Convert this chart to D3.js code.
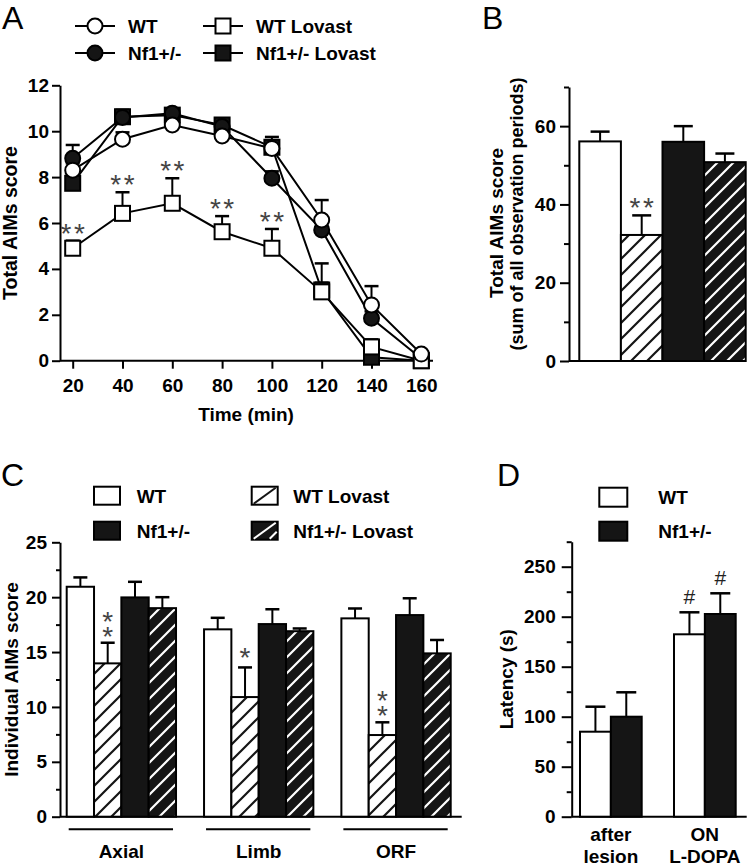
<!DOCTYPE html>
<html><head><meta charset="utf-8">
<script src="https://cdn.jsdelivr.net/npm/d3@7"></script>
<style>body{margin:0;background:#fff}svg{display:block}text{font-family:"Liberation Sans",Arial,sans-serif}</style>
</head><body><svg id="c" width="750" height="867"></svg>
<script>
// ---------- DATA ----------
// Panel A
const timesA = [20, 40, 60, 80, 100, 120, 140, 160];
const ticksAy = [0, 2, 4, 6, 8, 10, 12];
const wtA      = [8.3, 9.65, 10.27, 9.79, 9.25, 6.13, 2.43, 0.29];
const wtAerr   = [0.3, 0.3, 0.2, 0.25, 0.3, 0.87, 0.82, 0.1];
const nf1A     = [8.82, 10.6, 10.78, 10.2, 7.95, 5.7, 1.85, 0.1];
const nf1Aerr  = [0.58, 0.3, 0.2, 0.2, 0.3, 0.3, 0.3, 0.05];
const wtLovA   = [4.9, 6.42, 6.86, 5.62, 4.9, 3.0, 0.6, 0.0];
const wtLovAerr= [0.33, 0.92, 1.09, 0.68, 0.84, 0.4, 0.33, 0];
const nf1LovA  = [7.73, 10.63, 10.7, 10.27, 9.3, 3.08, 0.15, 0.0];
const nf1LovAerr=[0.3, 0.3, 0.2, 0.2, 0.45, 1.16, 0.2, 0];
const starsA   = [0, 1, 2, 3, 4]; // indices of WT Lovast with "**"

// Panel B
const groupsB = ["WT", "WT Lovast", "Nf1+/-", "Nf1+/- Lovast"];
const valsB   = [56.1, 32.2, 56.0, 50.8];
const errB    = [2.5, 5.0, 4.0, 2.2];
const ticksBy = [0, 20, 40, 60];
const minorBy = [10, 30, 50, 70];

// Panel C
const catsC    = ["Axial", "Limb", "ORF"];
const wtC      = [20.95, 17.07, 18.07];
const wtCerr   = [0.85, 1.05, 0.9];
const wtLovC   = [13.97, 10.9, 7.44];
const wtLovCerr= [1.88, 2.7, 1.16];
const nf1C     = [19.98, 17.55, 18.37];
const nf1Cerr  = [1.42, 1.35, 1.53];
const nf1LovC  = [19.0, 16.9, 14.88];
const nf1LovCerr=[1.0, 0.25, 1.22];
const starsC   = ["**", "*", "**"];
const ticksCy  = [0, 5, 10, 15, 20, 25];
const minorCy  = [2.5, 7.5, 12.5, 17.5, 22.5];

// Panel D
const catsD   = ["after lesion", "ON L-DOPA"];
const catLinesD = [["after", "lesion"], ["ON", "L-DOPA"]];
const groupsD = ["WT", "Nf1+/-"];
const wtD     = [85, 182.4];
const wtDerr  = [25, 22];
const nf1D    = [100, 202.7];
const nf1Derr = [24.4, 20.7];
const ticksDy = [0, 50, 100, 150, 200, 250];
const minorDy = [25, 75, 125, 175, 225, 275];

// ---------- DRAW ----------
const FS = 19;
const BLACK = "#151515";
const svg = d3.select("#c");
const defs = svg.append("defs");
function hatch(id, bg, fg) {
  const p = defs.append("pattern").attr("id", id).attr("patternUnits", "userSpaceOnUse")
    .attr("width", 16).attr("height", 16);
  p.append("rect").attr("width", 16).attr("height", 16).attr("fill", bg);
  p.append("path").attr("d", "M-4,4L4,-4M0,16L16,0M12,20L20,12")
    .attr("stroke", fg).attr("stroke-width", 2.2);
}
hatch("hw", "#fff", BLACK);
hatch("hb", BLACK, "#fff");
const fills = { "WT": "#fff", "WT Lovast": "url(#hw)", "Nf1+/-": BLACK, "Nf1+/- Lovast": "url(#hb)" };

function styleAxis(sel) {
  sel.attr("font-family", null).attr("font-size", FS).attr("font-weight", "bold");
  sel.selectAll("path,line").attr("stroke", "#000").attr("stroke-width", 2);
  sel.selectAll("text").attr("fill", "#000");
}
function txt(g, x, y, s, o = {}) {
  const t = g.append("text").attr("x", x).attr("y", y).text(s)
    .attr("font-size", o.fs || FS).attr("font-weight", o.fw || "bold")
    .attr("text-anchor", o.anchor || "start").attr("fill", o.fill || "#000");
  if (o.rot) t.attr("transform", `rotate(-90,${x},${y})`);
  return t;
}
const SF = 28;
function star(g, cx, cy, s = "*") {
  // asterisk glyph centre ~0.57em above baseline
  const t = g.append("text").attr("x", cx).attr("y", cy + 0.57 * SF).text(s)
    .attr("font-size", SF).attr("font-weight", "normal").attr("text-anchor", "middle").attr("fill", "#444");
  if (s.length > 1) t.attr("letter-spacing", 2.5).attr("x", cx + 1.25);
  return t;
}
function stackedStars(g, cx, cyTop, gap) {
  const t = g.append("text").attr("font-size", SF).attr("font-weight", "normal")
    .attr("text-anchor", "middle").attr("fill", "#444");
  t.append("tspan").attr("x", cx).attr("y", cyTop + 0.57 * SF).text("*");
  t.append("tspan").attr("x", cx).attr("y", cyTop + gap + 0.57 * SF).text("*");
}
function panelLabel(x, y, s) {
  txt(svg, x, y, s, { fs: 32, fw: "normal" });
}

// ===== Panel A =====
const xA = d3.scaleLinear().domain([20, 160]).range([72.7, 421.3]);
const yA = d3.scaleLinear().domain([0, 12]).range([360.7, 85.3]);
const gA = svg.append("g");
panelLabel(2, 29, "A");
const axAy = gA.append("g").attr("transform", "translate(60,0)")
  .call(d3.axisLeft(yA).tickValues(ticksAy).tickSize(8).tickPadding(3).tickSizeOuter(0));
styleAxis(axAy);
const axAx = gA.append("g").attr("transform", `translate(0,${yA(0)})`)
  .call(d3.axisBottom(xA).tickValues(timesA).tickSize(8).tickPadding(10).tickSizeOuter(0));
styleAxis(axAx);
axAx.select(".domain").remove();
gA.append("line").attr("x1", 60).attr("x2", 433).attr("y1", yA(0)).attr("y2", yA(0))
  .attr("stroke", "#000").attr("stroke-width", 2);
txt(gA, 17, (yA(0) + yA(12)) / 2, "Total AIMs score", { anchor: "middle", rot: true, fs: 19.5 });
txt(gA, 246, 421, "Time (min)", { anchor: "middle" });

const seriesA = [
  { v: nf1LovA, e: nf1LovAerr, shape: "sq", fill: BLACK },
  { v: nf1A, e: nf1Aerr, shape: "ci", fill: BLACK },
  { v: wtLovA, e: wtLovAerr, shape: "sq", fill: "#fff" },
  { v: wtA, e: wtAerr, shape: "ci", fill: "#fff" }
];
const line = d3.line().x((d, i) => xA(timesA[i])).y(d => yA(d));
seriesA.forEach(s => {
  gA.append("path").attr("d", line(s.v)).attr("fill", "none").attr("stroke", "#000").attr("stroke-width", 2);
  s.v.forEach((v, i) => {
    if (s.e[i] <= 0) return;
    const x = xA(timesA[i]), y0 = yA(v), y1 = yA(v + s.e[i]);
    gA.append("line").attr("x1", x).attr("x2", x).attr("y1", y0).attr("y2", y1).attr("stroke", "#000").attr("stroke-width", 2);
    gA.append("line").attr("x1", x - 7).attr("x2", x + 7).attr("y1", y1).attr("y2", y1).attr("stroke", "#000").attr("stroke-width", 2.5);
  });
});
function marker(g, shape, x, y, fill) {
  if (shape === "ci") g.append("circle").attr("cx", x).attr("cy", y).attr("r", 7.5).attr("fill", fill).attr("stroke", "#000").attr("stroke-width", 2);
  else g.append("rect").attr("x", x - 7.5).attr("y", y - 7.5).attr("width", 15).attr("height", 15).attr("fill", fill).attr("stroke", "#000").attr("stroke-width", 2);
}
seriesA.forEach(s => s.v.forEach((v, i) => marker(gA, s.shape, xA(timesA[i]), yA(v), s.fill)));
starsA.forEach(i => {
  const cy = yA(wtLovA[i] + wtLovAerr[i]) - 14;
  star(gA, xA(timesA[i]), cy, "**");
});
// legend A
const legA = [
  { name: "WT", shape: "ci", fill: "#fff", x: 95, y: 26 },
  { name: "Nf1+/-", shape: "ci", fill: BLACK, x: 95, y: 53 },
  { name: "WT Lovast", shape: "sq", fill: "#fff", x: 223, y: 26 },
  { name: "Nf1+/- Lovast", shape: "sq", fill: BLACK, x: 223, y: 53 }
];
legA.forEach(l => {
  gA.append("line").attr("x1", l.x - 20).attr("x2", l.x + 20).attr("y1", l.y).attr("y2", l.y).attr("stroke", "#000").attr("stroke-width", 2);
  marker(gA, l.shape, l.x, l.y, l.fill);
  txt(gA, l.x + 33, l.y + 0.36 * FS, l.name);
});

// ===== Panel B =====
const gB = svg.append("g");
panelLabel(482, 29, "B");
const yB = d3.scaleLinear().domain([0, 70]).range([361, 87]);
const xB = d3.scaleBand().domain(groupsB).range([579.3, 745.7]);
const axBy = gB.append("g").attr("transform", "translate(569,0)")
  .call(d3.axisLeft(yB).tickValues(ticksBy).tickSize(9).tickPadding(4).tickSizeOuter(0));
styleAxis(axBy);
const axBm = gB.append("g").attr("transform", "translate(569,0)")
  .call(d3.axisLeft(yB).tickValues(minorBy).tickSize(5).tickFormat("").tickSizeOuter(0));
styleAxis(axBm); axBm.select(".domain").remove();
gB.append("line").attr("x1", 569).attr("x2", 746).attr("y1", yB(0)).attr("y2", yB(0)).attr("stroke", "#000").attr("stroke-width", 2);
groupsB.forEach((g, i) => {
  const x = xB(g), w = xB.bandwidth(), cx = x + w / 2;
  gB.append("rect").attr("x", x).attr("y", yB(valsB[i])).attr("width", w).attr("height", yB(0) - yB(valsB[i]))
    .attr("fill", fills[g]).attr("stroke", "#000").attr("stroke-width", 2);
  const y1 = yB(valsB[i] + errB[i]);
  gB.append("line").attr("x1", cx).attr("x2", cx).attr("y1", yB(valsB[i])).attr("y2", y1).attr("stroke", "#000").attr("stroke-width", 2);
  gB.append("line").attr("x1", cx - 9.5).attr("x2", cx + 9.5).attr("y1", y1).attr("y2", y1).attr("stroke", "#000").attr("stroke-width", 2.5);
});
{
  const cx = xB("WT Lovast") + xB.bandwidth() / 2, cy = yB(valsB[1] + errB[1]) - 14;
  star(gB, cx, cy, "**");
}
txt(gB, 503, 223, "Total AIMs score", { anchor: "middle", rot: true });
txt(gB, 523, 214, "(sum of all observation periods)", { anchor: "middle", rot: true, fs: 18 });

// ===== Panel C =====
const gC = svg.append("g");
panelLabel(1, 486, "C");
const yC = d3.scaleLinear().domain([0, 25]).range([816.7, 542.3]);
const xC = d3.scaleBand().domain(catsC).range([66.7, 450.7]).paddingInner(0.204);
const xCi = d3.scaleBand().domain(groupsB).range([0, xC.bandwidth()]);
const axCy = gC.append("g").attr("transform", "translate(60,0)")
  .call(d3.axisLeft(yC).tickValues(ticksCy).tickSize(8).tickPadding(5).tickSizeOuter(0));
styleAxis(axCy);
const axCm = gC.append("g").attr("transform", "translate(60,0)")
  .call(d3.axisLeft(yC).tickValues(minorCy).tickSize(4).tickFormat("").tickSizeOuter(0));
styleAxis(axCm); axCm.select(".domain").remove();
gC.append("line").attr("x1", 60).attr("x2", 461.7).attr("y1", yC(0)).attr("y2", yC(0)).attr("stroke", "#000").attr("stroke-width", 2);
const seriesC = [
  { name: "WT", v: wtC, e: wtCerr },
  { name: "WT Lovast", v: wtLovC, e: wtLovCerr },
  { name: "Nf1+/-", v: nf1C, e: nf1Cerr },
  { name: "Nf1+/- Lovast", v: nf1LovC, e: nf1LovCerr }
];
catsC.forEach((c, ci) => {
  seriesC.forEach(s => {
    const x = xC(c) + xCi(s.name), w = xCi.bandwidth(), cx = x + w / 2, v = s.v[ci];
    gC.append("rect").attr("x", x).attr("y", yC(v)).attr("width", w).attr("height", yC(0) - yC(v))
      .attr("fill", fills[s.name]).attr("stroke", "#000").attr("stroke-width", 2);
    const y1 = yC(v + s.e[ci]);
    gC.append("line").attr("x1", cx).attr("x2", cx).attr("y1", yC(v)).attr("y2", y1).attr("stroke", "#000").attr("stroke-width", 2);
    gC.append("line").attr("x1", cx - 7).attr("x2", cx + 7).attr("y1", y1).attr("y2", y1).attr("stroke", "#000").attr("stroke-width", 2.5);
  });
  // stars stacked vertically above WT Lovast
  const cx = xC(c) + xCi("WT Lovast") + xCi.bandwidth() / 2;
  const top = yC(wtLovC[ci] + wtLovCerr[ci]);
  if (starsC[ci] === "**") stackedStars(gC, cx, top - 28, 15);
  else star(gC, cx, top - 16);
  // group underline and label
  const x0 = xC(c), x1 = xC(c) + xC.bandwidth();
  gC.append("line").attr("x1", x0 + 2).attr("x2", x1 - 3).attr("y1", 829.3).attr("y2", 829.3).attr("stroke", "#000").attr("stroke-width", 2);
  txt(gC, (x0 + x1) / 2, 858, c, { anchor: "middle" });
});
txt(gC, 18, (yC(0) + yC(25)) / 2, "Individual AIMs score", { anchor: "middle", rot: true });
// legend C
const legC = [
  { name: "WT", x: 94, y: 486.7 },
  { name: "Nf1+/-", x: 94, y: 521.7 },
  { name: "WT Lovast", x: 251.7, y: 486.7 },
  { name: "Nf1+/- Lovast", x: 251.7, y: 521.7 }
];
legC.forEach(l => {
  const w = 26, h = 18;
  const bg = l.name.startsWith("Nf1") ? BLACK : "#fff";
  gC.append("rect").attr("x", l.x).attr("y", l.y).attr("width", w).attr("height", h).attr("fill", bg).attr("stroke", "#000").attr("stroke-width", 2);
  if (l.name.endsWith("Lovast")) {
    const fg = bg === "#fff" ? BLACK : "#fff";
    gC.append("line").attr("x1", l.x + 2).attr("y1", l.y + h - 1).attr("x2", l.x + w - 2).attr("y2", l.y + 1).attr("stroke", fg).attr("stroke-width", 2);
    if (bg !== "#fff") gC.append("line").attr("x1", l.x + w - 8).attr("y1", l.y + h - 1).attr("x2", l.x + w - 1).attr("y2", l.y + h - 8).attr("stroke", fg).attr("stroke-width", 2);
  }
  txt(gC, l.x + (l.x < 200 ? 42.7 : 41.6), l.y + 16.6, l.name);
});

// ===== Panel D =====
const gD = svg.append("g");
panelLabel(497, 486, "D");
const yD = d3.scaleLinear().domain([0, 275]).range([816.7, 541.7]);
const xD = d3.scaleBand().domain(catsD).range([580, 735.7]).paddingInner(0.3436);
const xDi = d3.scaleBand().domain(groupsD).range([0, xD.bandwidth()]);
const axDy = gD.append("g").attr("transform", "translate(571.7,0)")
  .call(d3.axisLeft(yD).tickValues(ticksDy).tickSize(10).tickPadding(6).tickSizeOuter(0));
styleAxis(axDy);
const axDm = gD.append("g").attr("transform", "translate(571.7,0)")
  .call(d3.axisLeft(yD).tickValues(minorDy).tickSize(5).tickFormat("").tickSizeOuter(0));
styleAxis(axDm); axDm.select(".domain").remove();
gD.append("line").attr("x1", 571.7).attr("x2", 746.7).attr("y1", yD(0)).attr("y2", yD(0)).attr("stroke", "#000").attr("stroke-width", 2);
const seriesD = [
  { name: "WT", v: wtD, e: wtDerr },
  { name: "Nf1+/-", v: nf1D, e: nf1Derr }
];
catsD.forEach((c, ci) => {
  seriesD.forEach(s => {
    const x = xD(c) + xDi(s.name), w = xDi.bandwidth(), cx = x + w / 2, v = s.v[ci];
    gD.append("rect").attr("x", x).attr("y", yD(v)).attr("width", w).attr("height", yD(0) - yD(v))
      .attr("fill", fills[s.name]).attr("stroke", "#000").attr("stroke-width", 2);
    const y1 = yD(v + s.e[ci]);
    gD.append("line").attr("x1", cx).attr("x2", cx).attr("y1", yD(v)).attr("y2", y1).attr("stroke", "#000").attr("stroke-width", 2);
    gD.append("line").attr("x1", cx - 10).attr("x2", cx + 10).attr("y1", y1).attr("y2", y1).attr("stroke", "#000").attr("stroke-width", 2.5);
    if (ci === 1) {
      gD.append("text").attr("x", cx).attr("y", y1 - 16 + 7.5).text("#").attr("font-size", 21)
        .attr("text-anchor", "middle").attr("fill", "#222");
    }
  });
  const cx = xD(c) + xD.bandwidth() / 2;
  txt(gD, cx, 841, catLinesD[ci][0], { anchor: "middle" });
  txt(gD, cx, 862.5, catLinesD[ci][1], { anchor: "middle" });
});
txt(gD, 513.5, (yD(0) + yD(275)) / 2, "Latency (s)", { anchor: "middle", rot: true });
// legend D
[{ name: "WT", y: 487.7 }, { name: "Nf1+/-", y: 521.7 }].forEach(l => {
  gD.append("rect").attr("x", 599.3).attr("y", l.y).attr("width", 28).attr("height", 19)
    .attr("fill", fills[l.name]).attr("stroke", "#000").attr("stroke-width", 2);
  txt(gD, 658.3, l.y + 16.6, l.name);
});
</script></body></html>
